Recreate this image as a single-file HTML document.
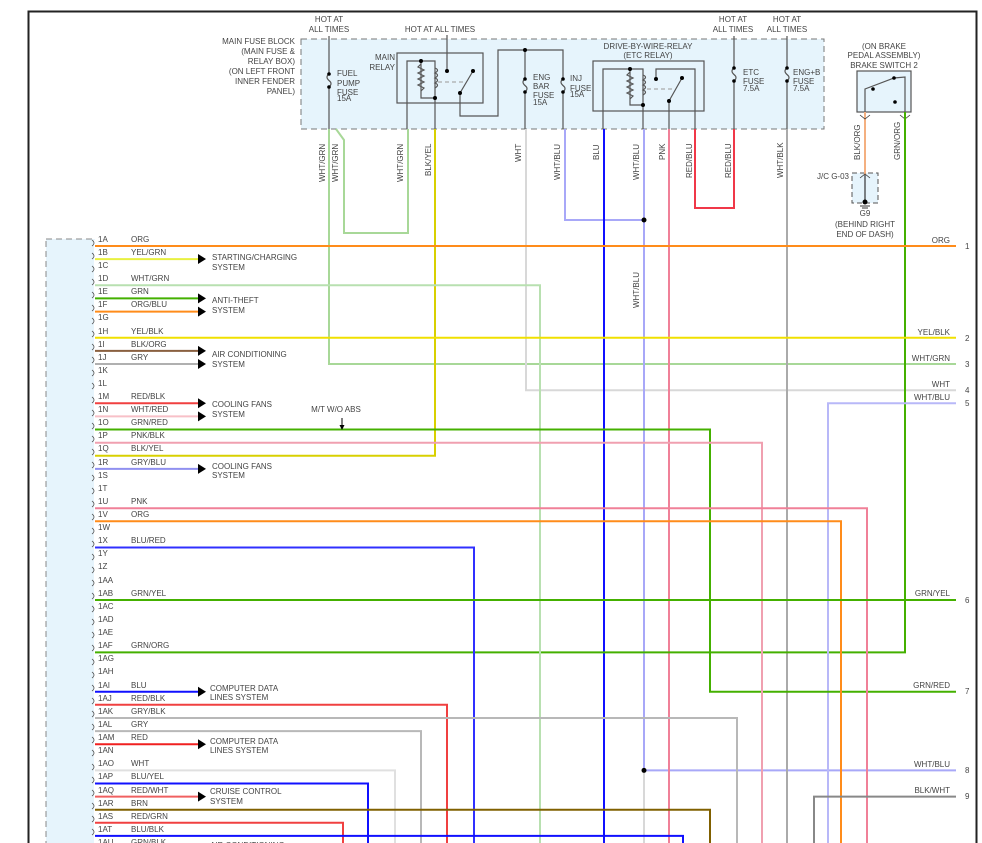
<!DOCTYPE html>
<html><head><meta charset="utf-8"><style>
html,body{margin:0;padding:0;background:#fff}
svg{display:block}
text{font-family:"Liberation Sans",sans-serif;font-size:8px;fill:#444}
</style></head><body>
<svg width="982" height="843" viewBox="0 0 982 843" xmlns="http://www.w3.org/2000/svg">
<path d="M28.5 843 V11.5 H976.5 V843" fill="none" stroke="#222" stroke-width="2"/>

<rect x="301" y="39" width="523" height="90" fill="#e6f4fc" stroke="#777" stroke-dasharray="6,4"/>
<text x="295" y="44" text-anchor="end">MAIN FUSE BLOCK</text>
<text x="295" y="54" text-anchor="end">(MAIN FUSE &amp;</text>
<text x="295" y="64" text-anchor="end">RELAY BOX)</text>
<text x="295" y="74" text-anchor="end">(ON LEFT FRONT</text>
<text x="295" y="84" text-anchor="end">INNER FENDER</text>
<text x="295" y="94" text-anchor="end">PANEL)</text>
<text x="329" y="22" text-anchor="middle">HOT AT</text>
<text x="329" y="32" text-anchor="middle">ALL TIMES</text>
<text x="440" y="32" text-anchor="middle">HOT AT ALL TIMES</text>
<text x="733" y="22" text-anchor="middle">HOT AT</text>
<text x="733" y="32" text-anchor="middle">ALL TIMES</text>
<text x="787" y="22" text-anchor="middle">HOT AT</text>
<text x="787" y="32" text-anchor="middle">ALL TIMES</text>

<g fill="none" stroke="#555" stroke-width="1.2">
<path d="M329 36 V74 M329 87 V129"/>
<path d="M329 74 q-4 3 0 6.5 q4 3 0 6.5"/>
<rect x="397" y="53" width="86" height="50"/>
<path d="M407 129 V61 H435 V98 H421 V61"/>
<path d="M435 98 V129"/>
<path d="M447 35 V71"/>
<path d="M460 93 L473 71"/>
<path d="M460 93 V116 H498 V50 H563 V79 M563 92 V129"/>
<path d="M525 50 V79 M525 92 V129"/>
<path d="M525 79 q-4 3 0 6.5 q4 3 0 6.5 M563 79 q-4 3 0 6.5 q4 3 0 6.5"/>
<path d="M421 64 l-3 3 l6 3 l-6 3 l6 3 l-6 3 l6 3 l-6 3 l6 3 l-3 3"/>
<path d="M435 68 q5 2 0 5 q5 2 0 5 q5 2 0 5 q5 2 0 5"/>
<path d="M438 82 H465" stroke-dasharray="4,3" stroke="#aaa"/>
<rect x="593" y="61" width="111" height="50"/>
<path d="M603 129 V69 H643 V105 H630 V69"/>
<path d="M643 105 V129"/>
<path d="M630 72 l-3 3 l6 3 l-6 3 l6 3 l-6 3 l6 3 l-6 3 l6 3 l-3 3"/>
<path d="M643 75 q5 2 0 5 q5 2 0 5 q5 2 0 5 q5 2 0 5"/>
<path d="M647 89 H675" stroke-dasharray="4,3" stroke="#aaa"/>
<path d="M656 79 V69 H695 V129"/>
<path d="M669 101 L682 78 M669 101 V129"/>
<path d="M734 36 V68 M734 81 V129 M734 68 q-4 3 0 6.5 q4 3 0 6.5"/>
<path d="M787 36 V68 M787 81 V129 M787 68 q-4 3 0 6.5 q4 3 0 6.5"/>
</g>
<g fill="#000">
<circle cx="329" cy="74" r="1.8"/><circle cx="329" cy="87" r="1.8"/>
<circle cx="421" cy="61" r="2"/><circle cx="435" cy="98" r="2"/><circle cx="447" cy="71" r="2"/><circle cx="473" cy="71" r="2"/><circle cx="460" cy="93" r="2"/>
<circle cx="525" cy="50" r="2"/><circle cx="525" cy="79" r="1.8"/><circle cx="525" cy="92" r="1.8"/><circle cx="563" cy="79" r="1.8"/><circle cx="563" cy="92" r="1.8"/>
<circle cx="630" cy="69" r="2"/><circle cx="643" cy="105" r="2"/><circle cx="656" cy="79" r="2"/><circle cx="682" cy="78" r="2"/><circle cx="669" cy="101" r="2"/>
<circle cx="734" cy="68" r="1.8"/><circle cx="734" cy="81" r="1.8"/><circle cx="787" cy="68" r="1.8"/><circle cx="787" cy="81" r="1.8"/>
</g>
<text x="337" y="76">FUEL</text><text x="337" y="86">PUMP</text><text x="337" y="95">FUSE</text><text x="337" y="101">15A</text>
<text x="395" y="60" text-anchor="end">MAIN</text><text x="395" y="70" text-anchor="end">RELAY</text>
<text x="533" y="80">ENG</text><text x="533" y="89">BAR</text><text x="533" y="98">FUSE</text><text x="533" y="105">15A</text>
<text x="570" y="81">INJ</text><text x="570" y="91">FUSE</text><text x="570" y="97">15A</text>
<text x="648" y="49" text-anchor="middle">DRIVE-BY-WIRE-RELAY</text>
<text x="648" y="58" text-anchor="middle">(ETC RELAY)</text>
<text x="743" y="75">ETC</text><text x="743" y="84">FUSE</text><text x="743" y="91">7.5A</text>
<text x="793" y="75">ENG+B</text><text x="793" y="84">FUSE</text><text x="793" y="91">7.5A</text>

<text x="884" y="49" text-anchor="middle">(ON BRAKE</text>
<text x="884" y="58" text-anchor="middle">PEDAL ASSEMBLY)</text>
<text x="884" y="68" text-anchor="middle">BRAKE SWITCH 2</text>
<rect x="857" y="71" width="54" height="41" fill="#e6f4fc" stroke="#555" stroke-width="1.2"/>
<path d="M865 112 V89 L894 78 L905 77 V112" fill="none" stroke="#555" stroke-width="1.2"/>
<circle cx="873" cy="89" r="1.8"/><circle cx="894" cy="78" r="1.8"/><circle cx="895" cy="102" r="1.8"/>
<rect x="852" y="173" width="26" height="30" fill="#e6f4fc" stroke="#555" stroke-dasharray="5,3"/>
<text x="849" y="179" text-anchor="end">J/C G-03</text>
<path d="M865 112 V175" stroke="#f4b080" stroke-width="2"/>
<path d="M865 175 V203" stroke="#333" stroke-width="1.2"/>
<path d="M860 115 l5 4 l5 -4 M860 178 l5 -4 l5 4 M900 115 l5 4 l5 -4" fill="none" stroke="#333" stroke-width="0.8"/>
<circle cx="865" cy="202" r="2.5"/>
<path d="M860 206 h10 M862 208 h6" stroke="#333"/>
<text x="865" y="216" text-anchor="middle">G9</text>
<text x="865" y="227" text-anchor="middle">(BEHIND RIGHT</text>
<text x="865" y="237" text-anchor="middle">END OF DASH)</text>

<rect x="46" y="239" width="49" height="610" fill="#e6f4fc" stroke="#888" stroke-dasharray="6,4"/>
<path d="M95 240 V843" stroke="#fff" stroke-width="2"/>

<g fill="none" stroke-width="2">
<path d="M329 129 V364 H956" stroke="#a8d898"/>
<path d="M336 129 L344 140 V233 H408 V129" stroke="#a8d898"/>
<path d="M435 129 V455.8 H95" stroke="#d8d000"/>
<path d="M526 129 V390.2 H956" stroke="#d8d8d8"/>
<path d="M565 129 V220 H644" stroke="#a8a8f8"/>
<path d="M604 129 V843" stroke="#1010ff"/>
<path d="M644 129 V770.4" stroke="#a8a8f8"/>
<path d="M644 770.4 V843" stroke="#d8d8d8"/>
<path d="M644 770.4 H956" stroke="#a8a8f8"/>
<path d="M669 129 V843" stroke="#f08098"/>
<path d="M695 129 V208 H734 V129" stroke="#f03848"/>
<path d="M787 129 V843" stroke="#aaa"/>
<path d="M905 112 V652.4 H95" stroke="#44b000"/>
<path d="M95 246 H956" stroke="#ff8c1a"/>
<path d="M95 285.3 H540 V843" stroke="#b8e0b0"/>
<path d="M95 337.8 H956" stroke="#f0e000"/>
<path d="M828 843 V403.3 H956" stroke="#b8b8f8"/>
<path d="M95 429.5 H710 V691.7 H956" stroke="#44b000"/>
<path d="M95 442.7 H762 V843" stroke="#f0a0b0"/>
<path d="M95 508.2 H867 V843" stroke="#f08098"/>
<path d="M95 521.3 H841 V843" stroke="#ff8c1a"/>
<path d="M95 547.5 H474 V843" stroke="#3030ff"/>
<path d="M95 600 H956" stroke="#44b000"/>
<path d="M95 704.8 H447 V843" stroke="#f04040"/>
<path d="M95 718 H737 V843" stroke="#b8b8b8"/>
<path d="M95 731.1 H421 V843" stroke="#b8b8b8"/>
<path d="M95 770.4 H395 V843" stroke="#e0e0e0"/>
<path d="M95 783.5 H368 V843" stroke="#1010ff"/>
<path d="M95 809.7 H710 V843" stroke="#806000"/>
<path d="M95 822.8 H343 V843" stroke="#f04040"/>
<path d="M95 835.9 H683 V843" stroke="#1010ff"/>
<path d="M956 796.6 H814 V843" stroke="#888"/>
<path d="M95 259.1 H200" stroke="#e8f040"/>
<path d="M95 298.4 H200" stroke="#44b000"/>
<path d="M95 311.6 H200" stroke="#ff8c1a"/>
<path d="M95 350.9 H200" stroke="#8a6040"/>
<path d="M95 364 H200" stroke="#b0b0b0"/>
<path d="M95 403.3 H200" stroke="#f04040"/>
<path d="M95 416.4 H200" stroke="#f8c0c8"/>
<path d="M95 468.9 H200" stroke="#9090f0"/>
<path d="M95 691.7 H200" stroke="#1010ff"/>
<path d="M95 744.2 H200" stroke="#f02020"/>
<path d="M95 796.6 H200" stroke="#f06060"/>
</g>
<g fill="#000">
<polygon points="198,254 206,259 198,264"/>
<polygon points="198,293.4 206,298.4 198,303.4"/>
<polygon points="198,306.6 206,311.6 198,316.6"/>
<polygon points="198,345.9 206,350.9 198,355.9"/>
<polygon points="198,359 206,364 198,369"/>
<polygon points="198,398.3 206,403.3 198,408.3"/>
<polygon points="198,411.4 206,416.4 198,421.4"/>
<polygon points="198,463.9 206,468.9 198,473.9"/>
<polygon points="198,686.7 206,691.7 198,696.7"/>
<polygon points="198,739.2 206,744.2 198,749.2"/>
<polygon points="198,791.6 206,796.6 198,801.6"/>
<circle cx="644" cy="220" r="2.5"/>
<circle cx="644" cy="770.4" r="2.5"/>
</g>
<path d="M342 418 V428" stroke="#000" stroke-width="1"/><polygon points="339.5,425 344.5,425 342,430"/>
<text x="336" y="412" text-anchor="middle">M/T W/O ABS</text>

<text x="212" y="260">STARTING/CHARGING</text><text x="212" y="270">SYSTEM</text>
<text x="212" y="303">ANTI-THEFT</text><text x="212" y="313">SYSTEM</text>
<text x="212" y="357">AIR CONDITIONING</text><text x="212" y="367">SYSTEM</text>
<text x="212" y="407">COOLING FANS</text><text x="212" y="417">SYSTEM</text>
<text x="212" y="469">COOLING FANS</text><text x="212" y="478">SYSTEM</text>
<text x="210" y="691">COMPUTER DATA</text><text x="210" y="700">LINES SYSTEM</text>
<text x="210" y="744">COMPUTER DATA</text><text x="210" y="753">LINES SYSTEM</text>
<text x="210" y="794">CRUISE CONTROL</text><text x="210" y="804">SYSTEM</text>

<g text-anchor="end">
<text x="950" y="243">ORG</text>
<text x="950" y="335">YEL/BLK</text>
<text x="950" y="361">WHT/GRN</text>
<text x="950" y="387">WHT</text>
<text x="950" y="400">WHT/BLU</text>
<text x="950" y="596">GRN/YEL</text>
<text x="950" y="688">GRN/RED</text>
<text x="950" y="767">WHT/BLU</text>
<text x="950" y="793">BLK/WHT</text>
</g>
<g>
<text x="965" y="249">1</text><text x="965" y="341">2</text><text x="965" y="367">3</text><text x="965" y="393">4</text><text x="965" y="406">5</text><text x="965" y="603">6</text><text x="965" y="694">7</text><text x="965" y="773">8</text><text x="965" y="799">9</text>
</g>

<g>
<text transform="translate(325,182) rotate(-90)">WHT/GRN</text>
<text transform="translate(338,182) rotate(-90)">WHT/GRN</text>
<text transform="translate(403,182) rotate(-90)">WHT/GRN</text>
<text transform="translate(431,176) rotate(-90)">BLK/YEL</text>
<text transform="translate(521,162) rotate(-90)">WHT</text>
<text transform="translate(560,180) rotate(-90)">WHT/BLU</text>
<text transform="translate(599,160) rotate(-90)">BLU</text>
<text transform="translate(639,180) rotate(-90)">WHT/BLU</text>
<text transform="translate(665,160) rotate(-90)">PNK</text>
<text transform="translate(692,178) rotate(-90)">RED/BLU</text>
<text transform="translate(731,178) rotate(-90)">RED/BLU</text>
<text transform="translate(783,178) rotate(-90)">WHT/BLK</text>
<text transform="translate(860,160) rotate(-90)">BLK/ORG</text>
<text transform="translate(900,160) rotate(-90)">GRN/ORG</text>
<text transform="translate(639,308) rotate(-90)">WHT/BLU</text>
</g>

<g>
<text x="98" y="242">1A</text><text x="131" y="242">ORG</text>
<text x="98" y="255">1B</text><text x="131" y="255">YEL/GRN</text>
<text x="98" y="268">1C</text>
<text x="98" y="281">1D</text><text x="131" y="281">WHT/GRN</text>
<text x="98" y="294">1E</text><text x="131" y="294">GRN</text>
<text x="98" y="307">1F</text><text x="131" y="307">ORG/BLU</text>
<text x="98" y="320">1G</text>
<text x="98" y="334">1H</text><text x="131" y="334">YEL/BLK</text>
<text x="98" y="347">1I</text><text x="131" y="347">BLK/ORG</text>
<text x="98" y="360">1J</text><text x="131" y="360">GRY</text>
<text x="98" y="373">1K</text>
<text x="98" y="386">1L</text>
<text x="98" y="399">1M</text><text x="131" y="399">RED/BLK</text>
<text x="98" y="412">1N</text><text x="131" y="412">WHT/RED</text>
<text x="98" y="425">1O</text><text x="131" y="425">GRN/RED</text>
<text x="98" y="438">1P</text><text x="131" y="438">PNK/BLK</text>
<text x="98" y="451">1Q</text><text x="131" y="451">BLK/YEL</text>
<text x="98" y="465">1R</text><text x="131" y="465">GRY/BLU</text>
<text x="98" y="478">1S</text>
<text x="98" y="491">1T</text>
<text x="98" y="504">1U</text><text x="131" y="504">PNK</text>
<text x="98" y="517">1V</text><text x="131" y="517">ORG</text>
<text x="98" y="530">1W</text>
<text x="98" y="543">1X</text><text x="131" y="543">BLU/RED</text>
<text x="98" y="556">1Y</text>
<text x="98" y="569">1Z</text>
<text x="98" y="583">1AA</text>
<text x="98" y="596">1AB</text><text x="131" y="596">GRN/YEL</text>
<text x="98" y="609">1AC</text>
<text x="98" y="622">1AD</text>
<text x="98" y="635">1AE</text>
<text x="98" y="648">1AF</text><text x="131" y="648">GRN/ORG</text>
<text x="98" y="661">1AG</text>
<text x="98" y="674">1AH</text>
<text x="98" y="688">1AI</text><text x="131" y="688">BLU</text>
<text x="98" y="701">1AJ</text><text x="131" y="701">RED/BLK</text>
<text x="98" y="714">1AK</text><text x="131" y="714">GRY/BLK</text>
<text x="98" y="727">1AL</text><text x="131" y="727">GRY</text>
<text x="98" y="740">1AM</text><text x="131" y="740">RED</text>
<text x="98" y="753">1AN</text>
<text x="98" y="766">1AO</text><text x="131" y="766">WHT</text>
<text x="98" y="779">1AP</text><text x="131" y="779">BLU/YEL</text>
<text x="98" y="793">1AQ</text><text x="131" y="793">RED/WHT</text>
<text x="98" y="806">1AR</text><text x="131" y="806">BRN</text>
<text x="98" y="819">1AS</text><text x="131" y="819">RED/GRN</text>
<text x="98" y="832">1AT</text><text x="131" y="832">BLU/BLK</text>
<text x="98" y="845">1AU</text><text x="131" y="845">GRN/BLK</text>
</g>
<g fill="none" stroke="#555" stroke-width="0.8">
<path d="M92 240 q4 3 0 6 M92 253 q4 3 0 6 M92 266 q4 3 0 6 M92 279 q4 3 0 6 M92 292 q4 3 0 6 M92 305 q4 3 0 6 M92 318 q4 3 0 6 M92 331 q4 3 0 6 M92 344 q4 3 0 6 M92 357 q4 3 0 6 M92 370 q4 3 0 6 M92 383 q4 3 0 6 M92 397 q4 3 0 6 M92 410 q4 3 0 6 M92 423 q4 3 0 6 M92 436 q4 3 0 6 M92 449 q4 3 0 6 M92 462 q4 3 0 6 M92 475 q4 3 0 6 M92 488 q4 3 0 6 M92 501 q4 3 0 6 M92 514 q4 3 0 6 M92 528 q4 3 0 6 M92 541 q4 3 0 6 M92 554 q4 3 0 6 M92 567 q4 3 0 6 M92 580 q4 3 0 6 M92 593 q4 3 0 6 M92 606 q4 3 0 6 M92 619 q4 3 0 6 M92 632 q4 3 0 6 M92 645 q4 3 0 6 M92 659 q4 3 0 6 M92 672 q4 3 0 6 M92 685 q4 3 0 6 M92 698 q4 3 0 6 M92 711 q4 3 0 6 M92 724 q4 3 0 6 M92 737 q4 3 0 6 M92 750 q4 3 0 6 M92 764 q4 3 0 6 M92 777 q4 3 0 6 M92 790 q4 3 0 6 M92 803 q4 3 0 6 M92 816 q4 3 0 6 M92 829 q4 3 0 6"/>
</g>
<text x="210" y="848">AIR CONDITIONING</text>
</svg>
</body></html>
